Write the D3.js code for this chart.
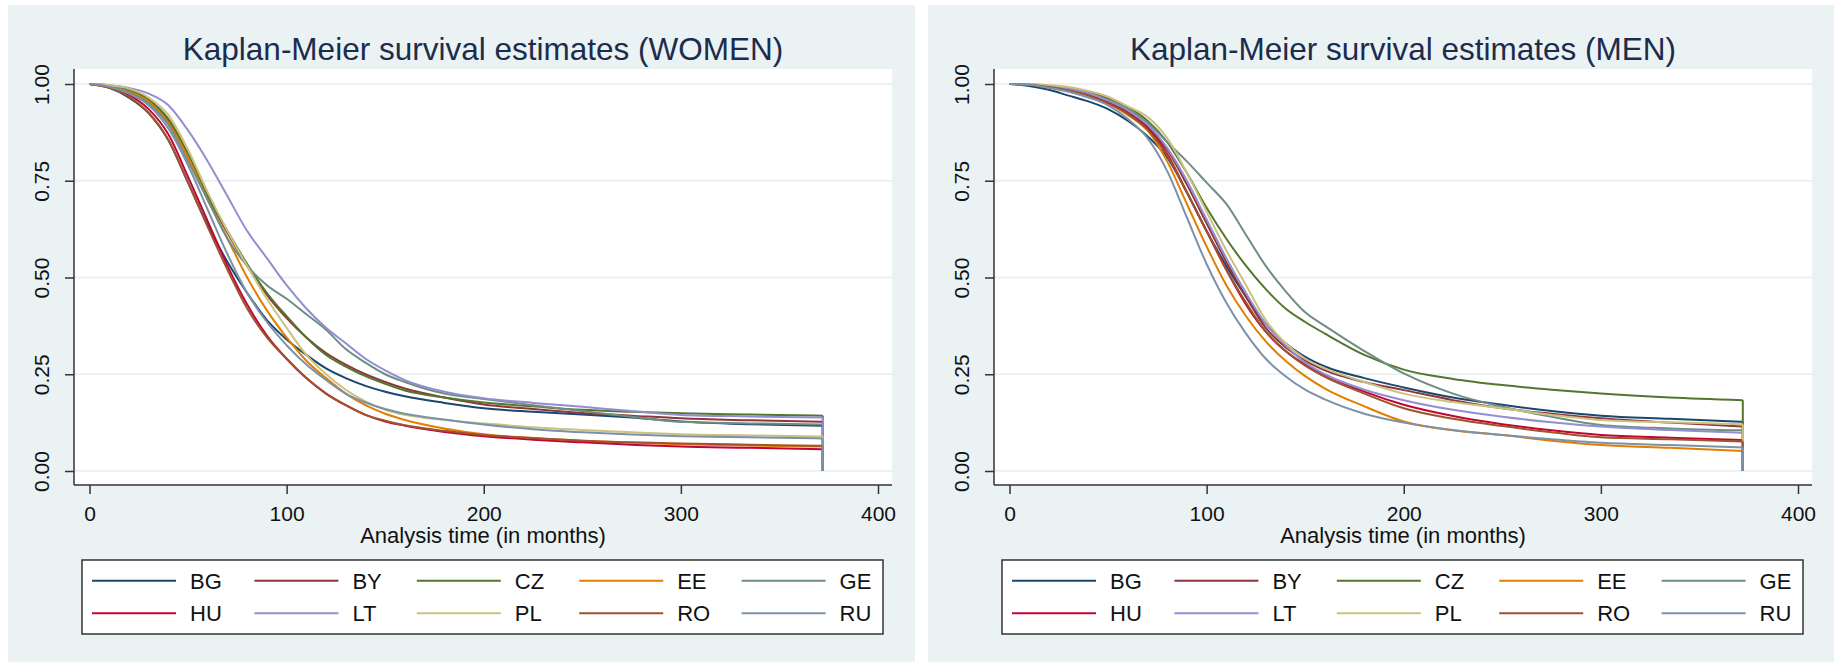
<!DOCTYPE html>
<html>
<head>
<meta charset="utf-8">
<script src="https://cdn.jsdelivr.net/npm/d3@7"></script>
<style>
  body { margin: 0; background: #fff; }
  text { font-family: 'Liberation Sans', Arial, sans-serif; }
</style>
</head>
<body>
<svg id="km" width="1834" height="662"></svg>
<script>
var months = [0, 10, 20, 30, 40, 50, 60, 70, 80, 90, 100, 110, 120, 130, 140, 150, 160, 180, 200, 225, 250, 275, 300, 335, 372];
var countries = ['BG', 'BY', 'CZ', 'EE', 'GE', 'HU', 'LT', 'PL', 'RO', 'RU'];
var colors = ['#1a476f', '#90353b', '#55752f', '#e37e00', '#6e8e84', '#c10534', '#938dd2', '#cac27e', '#a0522d', '#7b92a8'];
var xTicks = [0, 100, 200, 300, 400];
var yTicks = [0, 0.25, 0.5, 0.75, 1];

//WOMEN
var womenBG = [1, 0.99, 0.965, 0.925, 0.855, 0.745, 0.635, 0.54, 0.46, 0.39, 0.34, 0.3, 0.265, 0.24, 0.22, 0.205, 0.193, 0.176, 0.162, 0.153, 0.146, 0.138, 0.128, 0.121, 0.117];
var womenBY = [1, 0.996, 0.984, 0.958, 0.905, 0.815, 0.71, 0.615, 0.53, 0.455, 0.395, 0.345, 0.305, 0.275, 0.25, 0.23, 0.213, 0.19, 0.172, 0.16, 0.15, 0.143, 0.136, 0.131, 0.127];
var womenCZ = [1, 0.996, 0.985, 0.96, 0.91, 0.82, 0.71, 0.62, 0.535, 0.46, 0.4, 0.345, 0.3, 0.27, 0.245, 0.225, 0.208, 0.19, 0.177, 0.167, 0.158, 0.153, 0.149, 0.146, 0.143];
var womenEE = [1, 0.995, 0.98, 0.955, 0.9, 0.81, 0.7, 0.6, 0.5, 0.415, 0.345, 0.285, 0.24, 0.2, 0.17, 0.148, 0.132, 0.11, 0.095, 0.085, 0.078, 0.073, 0.069, 0.066, 0.063];
var womenGE = [1, 0.994, 0.978, 0.95, 0.895, 0.8, 0.7, 0.6, 0.53, 0.48, 0.445, 0.405, 0.365, 0.315, 0.28, 0.25, 0.23, 0.2, 0.186, 0.17, 0.155, 0.14, 0.127, 0.123, 0.12];
var womenHU = [1, 0.992, 0.972, 0.935, 0.87, 0.76, 0.645, 0.53, 0.43, 0.35, 0.29, 0.24, 0.2, 0.17, 0.145, 0.128, 0.117, 0.101, 0.09, 0.081, 0.074, 0.068, 0.063, 0.06, 0.056];
var womenLT = [1, 0.997, 0.99, 0.975, 0.945, 0.88, 0.8, 0.71, 0.62, 0.55, 0.48, 0.42, 0.37, 0.33, 0.29, 0.26, 0.235, 0.205, 0.188, 0.176, 0.166, 0.155, 0.145, 0.141, 0.138];
var womenPL = [1, 0.997, 0.988, 0.965, 0.92, 0.83, 0.72, 0.62, 0.53, 0.445, 0.37, 0.3, 0.25, 0.21, 0.18, 0.158, 0.145, 0.132, 0.123, 0.113, 0.106, 0.1, 0.095, 0.092, 0.089];
var womenRO = [1, 0.99, 0.967, 0.925, 0.855, 0.745, 0.63, 0.52, 0.42, 0.345, 0.29, 0.24, 0.2, 0.17, 0.145, 0.13, 0.118, 0.104, 0.093, 0.085, 0.078, 0.074, 0.071, 0.068, 0.065];
var womenRU = [1, 0.993, 0.975, 0.945, 0.885, 0.79, 0.675, 0.56, 0.46, 0.385, 0.325, 0.275, 0.235, 0.2, 0.177, 0.16, 0.148, 0.133, 0.12, 0.108, 0.1, 0.094, 0.09, 0.087, 0.084];

//MEN
var menBG = [1, 0.995, 0.985, 0.97, 0.955, 0.935, 0.905, 0.865, 0.81, 0.72, 0.62, 0.53, 0.45, 0.38, 0.33, 0.295, 0.27, 0.24, 0.216, 0.19, 0.171, 0.155, 0.143, 0.135, 0.127];
var menBY = [1, 0.999, 0.994, 0.986, 0.973, 0.953, 0.928, 0.89, 0.83, 0.74, 0.64, 0.54, 0.45, 0.37, 0.32, 0.285, 0.26, 0.23, 0.209, 0.183, 0.162, 0.148, 0.136, 0.125, 0.115];
var menCZ = [1, 0.999, 0.995, 0.99, 0.98, 0.963, 0.94, 0.905, 0.85, 0.77, 0.68, 0.6, 0.53, 0.47, 0.42, 0.385, 0.355, 0.3, 0.262, 0.238, 0.222, 0.21, 0.2, 0.19, 0.183];
var menEE = [1, 0.999, 0.993, 0.985, 0.97, 0.95, 0.92, 0.88, 0.8, 0.69, 0.58, 0.48, 0.4, 0.335, 0.285, 0.245, 0.213, 0.167, 0.128, 0.105, 0.093, 0.078, 0.067, 0.06, 0.052];
var menGE = [1, 0.999, 0.995, 0.988, 0.976, 0.958, 0.935, 0.9, 0.85, 0.8, 0.745, 0.69, 0.61, 0.53, 0.465, 0.41, 0.375, 0.31, 0.252, 0.2, 0.166, 0.14, 0.119, 0.11, 0.105];
var menHU = [1, 0.999, 0.994, 0.985, 0.972, 0.952, 0.925, 0.885, 0.82, 0.72, 0.62, 0.52, 0.43, 0.36, 0.31, 0.275, 0.248, 0.205, 0.171, 0.142, 0.121, 0.105, 0.093, 0.086, 0.08];
var menLT = [1, 0.999, 0.995, 0.988, 0.976, 0.957, 0.932, 0.895, 0.835, 0.75, 0.65, 0.55, 0.46, 0.38, 0.325, 0.28, 0.25, 0.21, 0.183, 0.158, 0.14, 0.126, 0.115, 0.106, 0.099];
var menPL = [1, 1, 0.997, 0.992, 0.982, 0.967, 0.942, 0.915, 0.86, 0.77, 0.67, 0.57, 0.48, 0.39, 0.33, 0.29, 0.265, 0.23, 0.2, 0.178, 0.162, 0.145, 0.132, 0.126, 0.121];
var menRO = [1, 0.998, 0.992, 0.983, 0.97, 0.95, 0.923, 0.882, 0.815, 0.72, 0.62, 0.52, 0.435, 0.36, 0.31, 0.272, 0.243, 0.2, 0.162, 0.135, 0.116, 0.1, 0.087, 0.082, 0.076];
var menRU = [1, 0.998, 0.99, 0.98, 0.965, 0.945, 0.91, 0.86, 0.775, 0.655, 0.535, 0.435, 0.355, 0.29, 0.245, 0.21, 0.185, 0.148, 0.125, 0.106, 0.093, 0.082, 0.073, 0.067, 0.061];

var women = [womenBG, womenBY, womenCZ, womenEE, womenGE, womenHU, womenLT, womenPL, womenRO, womenRU];
var men = [menBG, menBY, menCZ, menEE, menGE, menHU, menLT, menPL, menRO, menRU];

function kmPanel(left, title, series) {
    var svg = d3.select('#km');

    //panel group with the light graph region
    var panel = svg.append('g')
        .attr('transform', 'translate(' + left + ',0)');
    panel.append('rect')
        .attr('x', 0).attr('y', 5)
        .attr('width', 907).attr('height', 660)
        .attr('fill', '#eaf2f3');

    //plot region extent
    var plot = {left: 66, right: 884, top: 69, bottom: 485};

    panel.append('rect')
        .attr('x', plot.left).attr('y', plot.top)
        .attr('width', plot.right - plot.left)
        .attr('height', plot.bottom - plot.top)
        .attr('fill', '#fff');

    //scales
    var x = d3.scaleLinear().domain([0, 400]).range([81.5, 870]);
    var y = d3.scaleLinear().domain([0, 1]).range([471, 84]);

    //gridlines
    panel.append('g').selectAll('line').data(yTicks)
        .enter().append('line')
            .attr('x1', plot.left).attr('x2', plot.right)
            .attr('y1', d => y(d)).attr('y2', d => y(d))
            .attr('stroke', '#e6eef1')
            .attr('stroke-width', 1.6);

    //y axis
    var yAxis = panel.append('g')
        .attr('transform', 'translate(' + plot.left + ',0)')
        .call(d3.axisLeft(y).tickValues(yTicks).tickFormat(d3.format('.2f')).tickSize(9).tickSizeOuter(0));
    yAxis.select('.domain').remove();
    yAxis.selectAll('line').attr('stroke', '#333').attr('stroke-width', 1.5);
    yAxis.selectAll('text')
        .attr('x', null).attr('dy', null)
        .attr('transform', 'translate(-25,0) rotate(-90)')
        .attr('text-anchor', 'middle')
        .attr('fill', '#111')
        .style('font-size', '21px')
        .style('font-family', "'Liberation Sans', Arial, sans-serif");

    //x axis
    var xAxis = panel.append('g')
        .attr('transform', 'translate(0,' + plot.bottom + ')')
        .call(d3.axisBottom(x).tickValues(xTicks).tickSize(9).tickSizeOuter(0));
    xAxis.select('.domain').remove();
    xAxis.selectAll('line').attr('stroke', '#333').attr('stroke-width', 1.5);
    xAxis.selectAll('text')
        .attr('y', 35.5).attr('dy', null)
        .attr('fill', '#111')
        .style('font-size', '21px')
        .style('font-family', "'Liberation Sans', Arial, sans-serif");

    //axis lines
    panel.append('line')
        .attr('x1', plot.left).attr('x2', plot.left)
        .attr('y1', plot.top).attr('y2', plot.bottom)
        .attr('stroke', '#333').attr('stroke-width', 1.5);
    panel.append('line')
        .attr('x1', plot.left).attr('x2', plot.right)
        .attr('y1', plot.bottom).attr('y2', plot.bottom)
        .attr('stroke', '#333').attr('stroke-width', 1.5);

    //survival curves
    var line = d3.line()
        .x(d => x(d[0]))
        .y(d => y(d[1]))
        .curve(d3.curveMonotoneX);
    var last = months[months.length - 1];

    var curves = panel.append('g').attr('fill', 'none');
    series.forEach(function(s, i) {
        var pts = months.map((m, j) => [m, s[j]]);
        curves.append('path')
            .attr('class', 'curve ' + countries[i])
            .attr('d', line(pts))
            .attr('stroke', colors[i])
            .attr('stroke-width', 2);
        //final drop to zero
        curves.append('line')
            .attr('x1', x(last)).attr('x2', x(last))
            .attr('y1', y(s[s.length - 1])).attr('y2', y(0))
            .attr('stroke', colors[i])
            .attr('stroke-width', 2);
    });

    //title
    panel.append('text')
        .attr('x', (plot.left + plot.right) / 2)
        .attr('y', 60)
        .attr('text-anchor', 'middle')
        .attr('fill', '#1c2c4c')
        .style('font-size', '31.5px')
        .text(title);

    //x axis title
    panel.append('text')
        .attr('x', (plot.left + plot.right) / 2)
        .attr('y', 543)
        .attr('text-anchor', 'middle')
        .attr('fill', '#111')
        .style('font-size', '22px')
        .text('Analysis time (in months)');

    //legend
    var legend = panel.append('g').attr('class', 'legend');
    legend.append('rect')
        .attr('x', 74).attr('y', 560)
        .attr('width', 801).attr('height', 74)
        .attr('fill', '#fff')
        .attr('stroke', '#333')
        .attr('stroke-width', 1.5);

    var item = legend.selectAll('g.item').data(countries)
        .enter().append('g')
            .attr('class', 'item')
            .attr('transform', (d, i) => 'translate(' + (84 + 162.4 * (i % 5)) + ',' + (580.7 + 32.6 * Math.floor(i / 5)) + ')');
    item.append('line')
        .attr('x1', 0).attr('x2', 84)
        .attr('stroke', (d, i) => colors[i])
        .attr('stroke-width', 2);
    item.append('text')
        .attr('x', 98).attr('y', 8)
        .attr('fill', '#111')
        .style('font-size', '22px')
        .text(d => d);
}

//draw both panels
kmPanel(8, 'Kaplan-Meier survival estimates (WOMEN)', women);
kmPanel(928, 'Kaplan-Meier survival estimates (MEN)', men);
</script>
</body>
</html>
